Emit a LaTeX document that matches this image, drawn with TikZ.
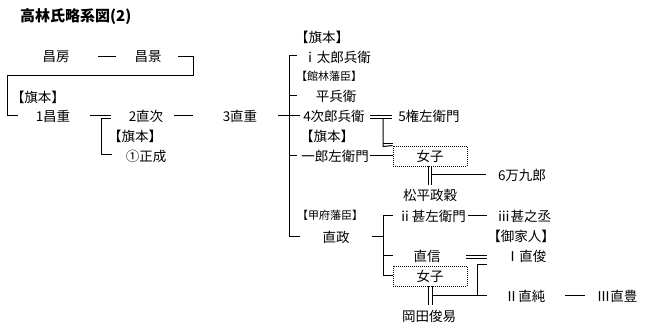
\documentclass[tikz,border=0pt]{standalone}
\usepackage{fontspec}
\setmainfont{Noto Sans CJK JP}
\begin{document}
\begin{tikzpicture}[x=1pt,y=-1pt,
  lbl/.style={inner sep=0pt,font=\fontsize{13.5}{14}\selectfont},
  sml/.style={inner sep=0pt,font=\fontsize{11}{12}\selectfont},
  ttl/.style={inner sep=0pt,anchor=west,font=\fontsize{15}{16}\selectfont\bfseries},
  ln/.style={line width=1pt},
  dbox/.style={draw,line width=0.9pt,dash pattern=on 1pt off 1pt,minimum width=74pt,minimum height=20pt,inner sep=0pt,font=\fontsize{13.5}{14}\selectfont}]
\useasboundingbox (0,0) rectangle (649,334);
\fill[white] (0,0) rectangle (649,334);
% title
\node[ttl] (title) at (20,17) {高林氏略系図(2)};
% nodes
\node[lbl] (fusa) at (56,57) {昌房};
\node[lbl] (kage) at (148,57) {昌景};
\node[lbl] (a1) at (38,97) {【旗本】};
\node[lbl] (shige) at (53,116) {1昌重};
\node[lbl] (tsugu) at (146,116) {2直次};
\node[lbl] (a2) at (135,136) {【旗本】};
\node[lbl] (masanari) at (146,156) {①正成};
\node[lbl] (naoshige) at (240,116) {3直重};
\node[lbl] (a3) at (322,37) {【旗本】};
\node[lbl] (taro) at (337,57) {ⅰ太郎兵衛};
\node[sml] (a4) at (329,76) {【館林藩臣】};
\node[lbl] (hei) at (336,96) {平兵衛};
\node[lbl] (jiro) at (334,116) {4次郎兵衛};
\node[lbl] (gonza) at (429,116) {5権左衛門};
\node[lbl] (a5) at (327,136) {【旗本】};
\node[lbl] (ichiro) at (335,156) {一郎左衛門};
\node[dbox] (box1) at (430,156) {女子};
\node[lbl] (rokuman) at (522,175) {6万九郎};
\node[lbl] (matsu) at (430,195) {松平政穀};
\node[sml] (a6) at (330,215) {【甲府藩臣】};
\node[lbl] (naomasa) at (336,237) {直政};
\node[lbl] (jinza) at (432,216) {ⅱ甚左衛門};
\node[lbl] (jinno) at (524,216) {ⅲ甚之丞};
\node[lbl] (a7) at (521,236) {【御家人】};
\node[lbl] (naonobu) at (427,256) {直信};
\node[lbl] (naotoshi) at (526,256) {Ⅰ直俊};
\node[dbox] (box2) at (430,276) {女子};
\node[lbl] (naozumi) at (525,296) {Ⅱ直純};
\node[lbl] (naotoyo) at (617,296) {Ⅲ直豊};
\node[lbl] (okada) at (429,316) {岡田俊易};
% junction coordinates
\coordinate (c1) at (98,57);   \coordinate (c2) at (116,57);
\coordinate (c3) at (178,57);  \coordinate (c4) at (193,57);
\coordinate (c5) at (193,76);  \coordinate (c6) at (7,76);
\coordinate (c7) at (7,116);   \coordinate (c8) at (18,116);
\coordinate (s1) at (90,116);  \coordinate (s2) at (111,116);
\coordinate (s3) at (101,118.5); \coordinate (s4) at (111,118.5);
\coordinate (s5) at (101,155); \coordinate (s6) at (112,155);
\coordinate (t1) at (174,116); \coordinate (t2) at (193,116);
\coordinate (n1) at (278,116); \coordinate (n2) at (300,116);
\coordinate (v1) at (289,56);  \coordinate (v2) at (289,237);
\coordinate (vb1) at (297,56); \coordinate (vb2) at (289,96); \coordinate (vb3) at (297,96);
\coordinate (vb4) at (289,156); \coordinate (vb5) at (297,156); \coordinate (vb6) at (300,237);
\coordinate (j1) at (370,116); \coordinate (j2) at (392,116);
\coordinate (j3) at (370,118.5); \coordinate (j4) at (392,118.5);
\coordinate (j5) at (383,118.5); \coordinate (j6) at (383,146.5);
\coordinate (j7) at (383,144); \coordinate (j8) at (393,144);
\coordinate (i1) at (370,156);
\coordinate (b1a) at (428,166); \coordinate (b1b) at (428,185);
\coordinate (b1c) at (431,166); \coordinate (b1d) at (431,185);
\coordinate (b1e) at (431,175); \coordinate (b1f) at (486,175);
\coordinate (m1) at (372,237); \coordinate (m2) at (383,237);
\coordinate (w1) at (383,216); \coordinate (w2) at (383,276);
\coordinate (w3) at (393,216); \coordinate (w4) at (383,256); \coordinate (w5) at (393,256);
\coordinate (g1) at (468,216); \coordinate (g2) at (487,216);
\coordinate (d1) at (466,256); \coordinate (d2) at (487,256);
\coordinate (d3) at (466,258.5); \coordinate (d4) at (487,258.5);
\coordinate (b2a) at (428,286); \coordinate (b2b) at (428,305);
\coordinate (b2c) at (432,286); \coordinate (b2d) at (432,305);
\coordinate (b2e) at (432,296); \coordinate (b2f) at (487,296);
\coordinate (k1) at (477,296); \coordinate (k2) at (477,265); \coordinate (k3) at (487,265);
\coordinate (z1) at (565,296); \coordinate (z2) at (585,296);
% connectors
\draw[ln] (c1) -- (c2);
\draw[ln] (c3) -- (c4) -- (c5) -- (c6) -- (c7) -- (c8);
\draw[ln] (s1) -- (s2);
\draw[ln] (s3) -- (s4);
\draw[ln] (s3) -- (s5) -- (s6);
\draw[ln] (t1) -- (t2);
\draw[ln] (n1) -- (n2);
\draw[ln] (v1) -- (v2);
\draw[ln] (v1) -- (vb1);
\draw[ln] (vb2) -- (vb3);
\draw[ln] (vb4) -- (vb5);
\draw[ln] (v2) -- (vb6);
\draw[ln] (j1) -- (j2);
\draw[ln] (j3) -- (j4);
\draw[ln] (j5) -- (j6) -- (box1.north west);
\draw[ln] (j7) -- (j8);
\draw[ln] (i1) -- (box1.west);
\draw[ln] (b1a) -- (b1b);
\draw[ln] (b1c) -- (b1d);
\draw[ln] (b1e) -- (b1f);
\draw[ln] (m1) -- (m2);
\draw[ln] (w1) -- (w2) -- (box2.west);
\draw[ln] (w1) -- (w3);
\draw[ln] (w4) -- (w5);
\draw[ln] (g1) -- (g2);
\draw[ln] (d1) -- (d2);
\draw[ln] (d3) -- (d4);
\draw[ln] (b2a) -- (b2b);
\draw[ln] (b2c) -- (b2d);
\draw[ln] (b2e) -- (b2f);
\draw[ln] (k1) -- (k2) -- (k3);
\draw[ln] (z1) -- (z2);
\end{tikzpicture}
\end{document}
